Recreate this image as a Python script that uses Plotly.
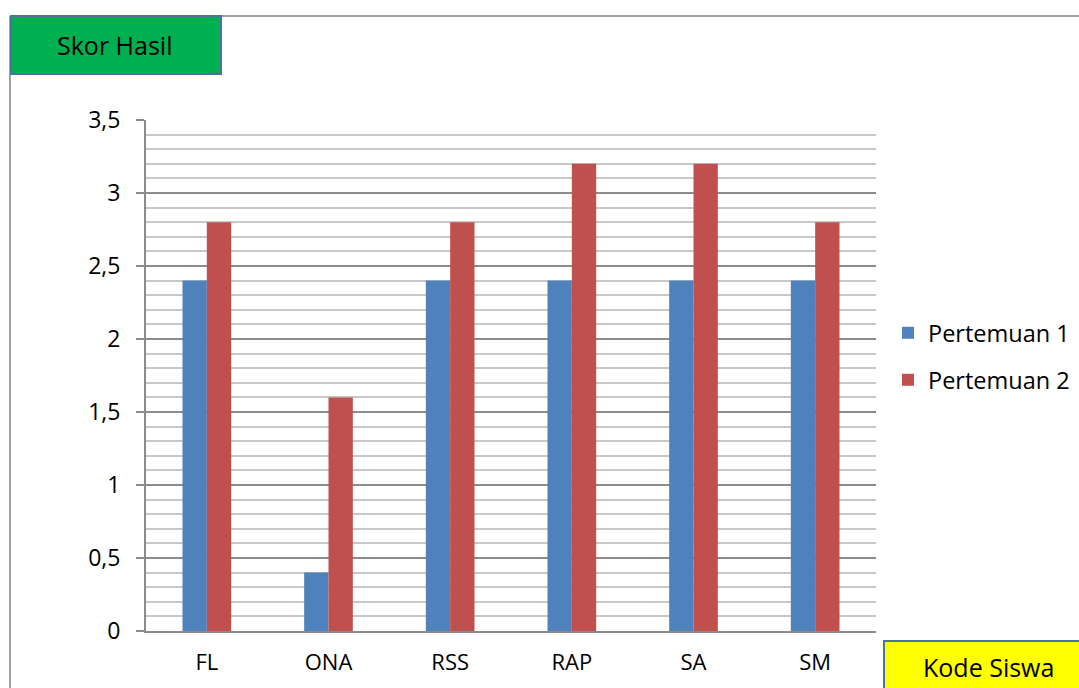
import plotly.graph_objects as go

categories = ["FL", "ONA", "RSS", "RAP", "SA", "SM"]
pertemuan_1 = [2.4, 0.4, 2.4, 2.4, 2.4, 2.4]
pertemuan_2 = [2.8, 1.6, 2.8, 3.2, 3.2, 2.8]
y_tickvals = [0, 0.5, 1, 1.5, 2, 2.5, 3, 3.5]
y_ticktext = ["0", "0,5", "1", "1,5", "2", "2,5", "3", "3,5"]

W, H = 1079, 688
L, R, T, B = 146, 876, 120, 631
FONT = "Open Sans"
GRAY = "#8c8c8c"


def px(x):
    return (x - L) / (R - L)


def py(y):
    return (B - y) / (B - T)


fig = go.Figure()
fig.add_trace(go.Bar(x=categories, y=pertemuan_1, name="Pertemuan 1",
                     marker=dict(color="#4F81BD", line=dict(width=0)),
                     legend="legend"))
fig.add_trace(go.Bar(x=categories, y=pertemuan_2, name="Pertemuan 2",
                     marker=dict(color="#C0504D", line=dict(width=0)),
                     legend="legend2"))

shapes = [
    # outer chart border (left and top)
    dict(type="line", xref="paper", yref="paper", x0=px(10), x1=px(10), y0=py(16), y1=py(700),
         line=dict(color="#a0a0a0", width=2)),
    dict(type="line", xref="paper", yref="paper", x0=px(10), x1=px(1100), y0=py(16), y1=py(16),
         line=dict(color="#a0a0a0", width=2)),
    # title boxes
    dict(type="rect", xref="paper", yref="paper", x0=px(11), x1=px(221), y0=py(74), y1=py(16),
         fillcolor="#00B050", line=dict(color="#4F6FA5", width=2)),
    dict(type="rect", xref="paper", yref="paper", x0=px(884), x1=px(1100), y0=py(700), y1=py(641),
         fillcolor="#FFFF00", line=dict(color="#4F6FA5", width=2)),
]

annotations = [
    dict(text="Skor Hasil", xref="paper", yref="paper", x=px(114), y=py(45),
         showarrow=False, xanchor="center", yanchor="middle",
         font=dict(family=FONT, size=25, color="black")),
    dict(text="Kode Siswa", xref="paper", yref="paper", x=px(988), y=py(667),
         showarrow=False, xanchor="center", yanchor="middle",
         font=dict(family=FONT, size=25, color="black")),
]

legend_common = dict(xanchor="left", yanchor="middle", bgcolor="rgba(0,0,0,0)",
                     font=dict(family=FONT, size=23.5, color="black"),
                     itemwidth=30, xref="paper", yref="paper")

fig.update_layout(
    width=W, height=H,
    margin=dict(l=L, r=W - R, t=T, b=H - B, pad=0, autoexpand=False),
    paper_bgcolor="white", plot_bgcolor="white",
    barmode="group", bargap=0.6, bargroupgap=0,
    separators=",.",
    font=dict(family=FONT, size=22, color="black"),
    showlegend=True,
    legend=dict(x=px(888), y=py(333), **legend_common),
    legend2=dict(x=px(888), y=py(380), **legend_common),
    shapes=shapes,
    annotations=annotations,
)

fig.update_yaxes(
    range=[0, 3.5], tickvals=y_tickvals, ticktext=y_ticktext,
    showgrid=True, gridcolor=GRAY, gridwidth=1.5,
    minor=dict(dtick=0.1, tick0=0, showgrid=True, gridcolor="#c8c8c8", gridwidth=1.5,
               ticks=""),
    showline=True, linecolor=GRAY, linewidth=2,
    ticks="outside", ticklen=8, tickcolor=GRAY, tickwidth=2,
    ticklabelstandoff=11,
    tickfont=dict(family=FONT, size=23, color="black"),
    zeroline=False,
)
fig.update_xaxes(
    showline=True, linecolor=GRAY, linewidth=2,
    ticks="", showgrid=False,
    ticklabelstandoff=11,
    tickfont=dict(family=FONT, size=22, color="black"),
)

fig.write_html("out.html")
